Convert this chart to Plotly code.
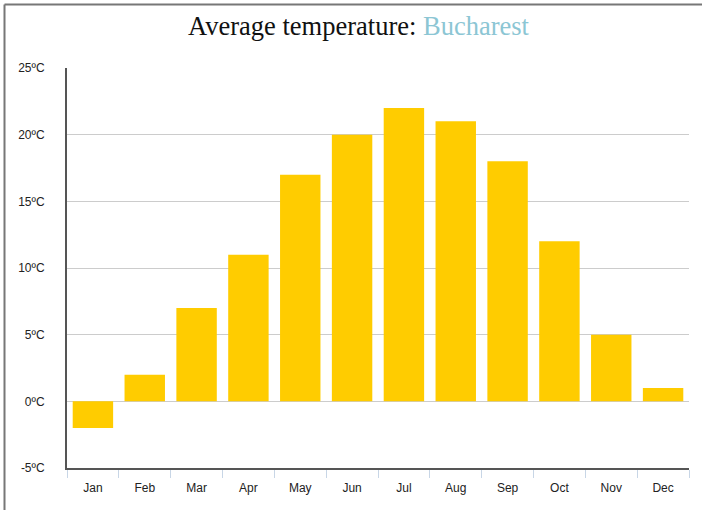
import plotly.graph_objects as go

months = ["Jan", "Feb", "Mar", "Apr", "May", "Jun", "Jul", "Aug", "Sep", "Oct", "Nov", "Dec"]
temps = [-2, 2, 7, 11, 17, 20, 22, 21, 18, 12, 5, 1]
y_ticks = [-5, 0, 5, 10, 15, 20, 25]
y_tick_labels = [f"{v}ºC" for v in y_ticks]

fig = go.Figure(go.Bar(
    x=months, y=temps,
    marker=dict(color="#FFCC00", line=dict(width=0)),
    hoverinfo="x+y",
))

L, R, T, B = 67, 13, 68, 42
W, H = 702, 510
pw, ph = W - L - R, H - T - B

bx = (4.5 - L) / pw
by = 1 + (T - 4.5) / ph

fig.update_layout(
    width=W, height=H,
    margin=dict(l=L, r=R, t=T, b=B, pad=0),
    paper_bgcolor="white", plot_bgcolor="white",
    bargap=0.22,
    showlegend=False,
    title=dict(
        text="Average temperature: <span style='color:#8CC6D4'>Bucharest</span>",
        x=358.5 / W, xanchor="center", y=1 - 26 / H, yanchor="middle",
        font=dict(family="Liberation Serif, serif", size=26.5, color="#111"),
    ),
    xaxis=dict(
        showline=True, linecolor="#555", linewidth=2,
        ticks="outside", tickson="boundaries", ticklen=8, tickcolor="#C8D6E6", tickwidth=1,
        tickfont=dict(family="Liberation Sans, Arial, sans-serif", size=12, color="#222"),
        ticklabelstandoff=8,
        showgrid=False,
    ),
    yaxis=dict(
        range=[-5, 25], tickvals=y_ticks, ticktext=y_tick_labels,
        showline=True, linecolor="#555", linewidth=2,
        showgrid=True, gridcolor="#CCCCCC", gridwidth=1,
        zeroline=True, zerolinecolor="#CCCCCC", zerolinewidth=1,
        ticks="", ticklabelstandoff=18,
        tickfont=dict(family="Liberation Sans, Arial, sans-serif", size=12, color="#222"),
    ),
    shapes=[
        dict(type="line", xref="paper", yref="paper", x0=bx, x1=1 + 20 / pw, y0=by, y1=by,
             line=dict(color="#777", width=2)),
        dict(type="line", xref="paper", yref="paper", x0=bx, x1=bx, y0=by, y1=-50 / ph,
             line=dict(color="#777", width=2)),
    ],
)

fig.write_html("out.html", config={"displayModeBar": False},
               post_script="document.body.style.margin='0';")
